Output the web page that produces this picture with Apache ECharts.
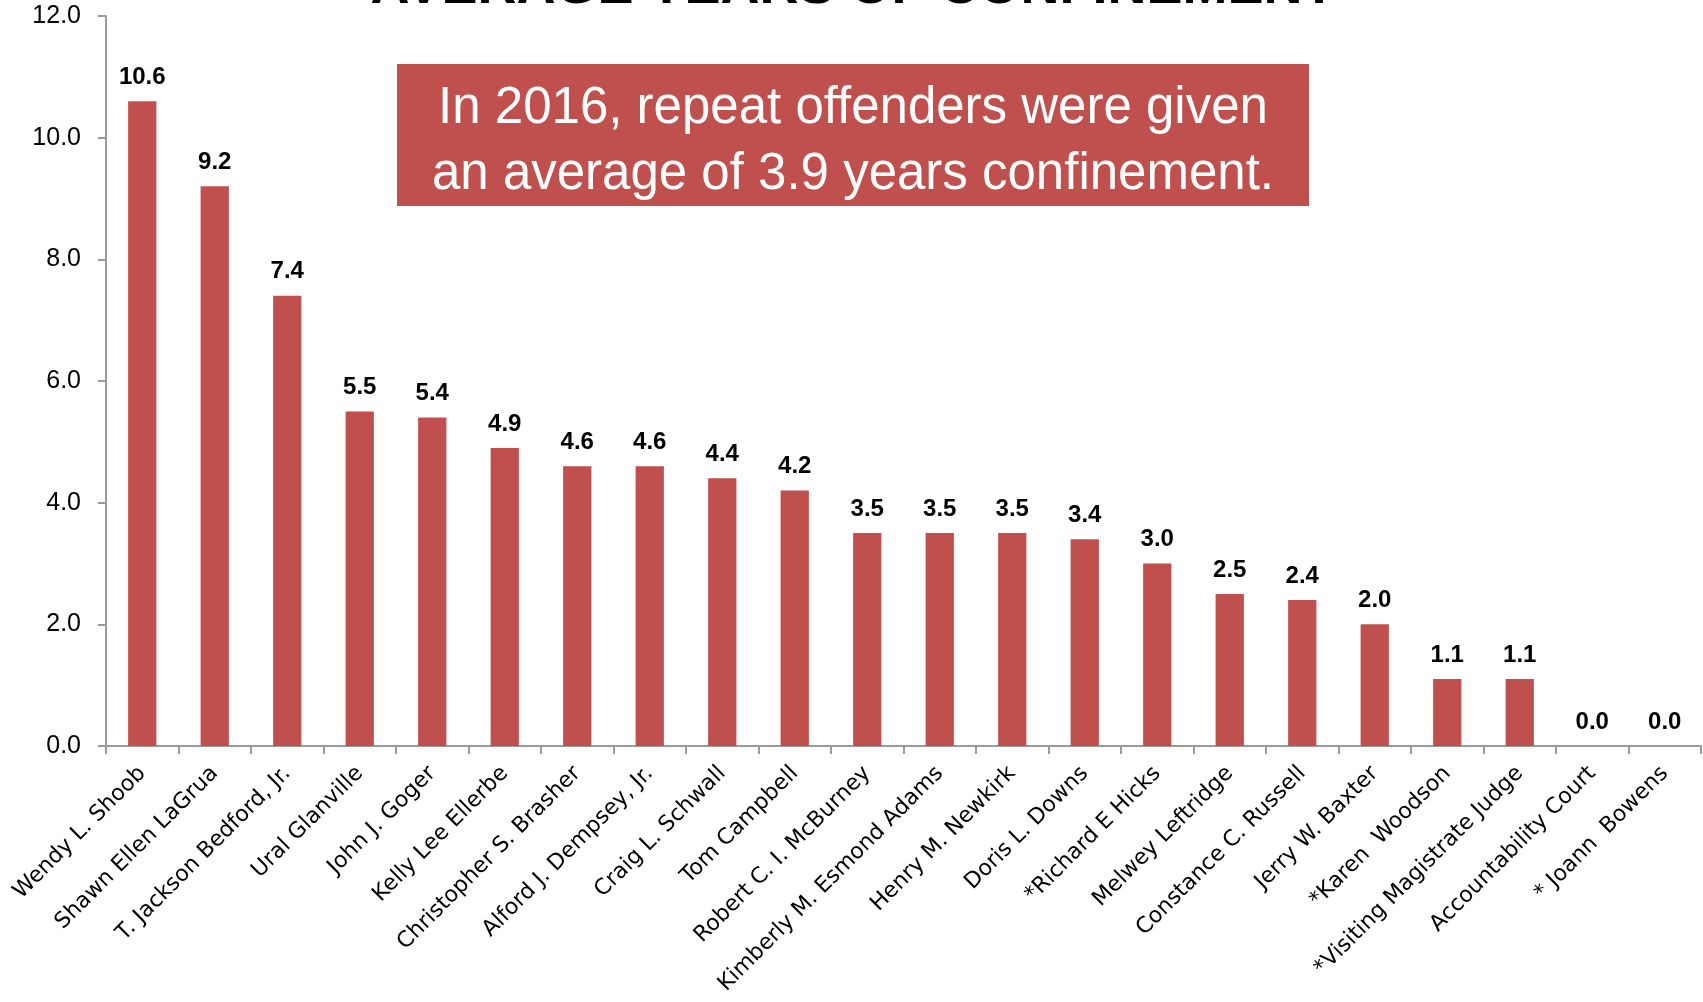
<!DOCTYPE html>
<html>
<head>
<meta charset="utf-8">
<title>Average Years of Confinement</title>
<script src="https://cdn.jsdelivr.net/npm/echarts@6/dist/echarts.min.js"></script>
<style>
  html, body { margin: 0; padding: 0; background: #ffffff; }
  #chart { width: 1703px; height: 1002px; }
</style>
</head>
<body>
<div id="chart"></div>
<script>
// Judges, ordered by average years of confinement given to repeat offenders
const judges = [
  'Wendy L. Shoob',
  'Shawn Ellen LaGrua',
  'T. Jackson Bedford, Jr.',
  'Ural Glanville',
  'John J. Goger',
  'Kelly Lee Ellerbe',
  'Christopher S. Brasher',
  'Alford J. Dempsey, Jr.',
  'Craig L. Schwall',
  'Tom Campbell',
  'Robert C. I. McBurney',
  'Kimberly M. Esmond Adams',
  'Henry M. Newkirk',
  'Doris L. Downs',
  '*Richard E Hicks',
  'Melwey Leftridge',
  'Constance C. Russell',
  'Jerry W. Baxter',
  '*Karen  Woodson',
  '*Visiting Magistrate Judge',
  'Accountability Court',
  '* Joann  Bowens'
];

// Average years of confinement
const avgYears = [
  10.6, 9.2, 7.4, 5.5, 5.4, 4.9, 4.6, 4.6, 4.4, 4.2, 3.5,
  3.5, 3.5, 3.4, 3.0, 2.5, 2.4, 2.0, 1.1, 1.1, 0.0, 0.0
];

// Value axis range
const yMin = 0;
const yMax = 12;
const yStep = 2;

const titleText = 'AVERAGE YEARS OF CONFINEMENT';
const calloutLines = [
  'In 2016, repeat offenders were given',
  'an average of 3.9 years confinement.'
];

const BAR_RED = '#C0504D';
const AXIS_GREY = '#9a9a9a';

const chart = echarts.init(document.getElementById('chart'), null, { renderer: 'canvas' });

chart.setOption({
  animation: false,
  backgroundColor: '#ffffff',
  grid: {
    left: 106, right: 2, top: 16, bottom: 256,
    containLabel: false,
    outerBoundsMode: 'none'
  },
  xAxis: {
    type: 'category',
    data: judges,
    boundaryGap: true,
    axisLine: { show: true, lineStyle: { color: AXIS_GREY, width: 2 } },
    axisTick: { show: true, inside: false, length: 8, alignWithLabel: false, lineStyle: { color: AXIS_GREY, width: 2 } },
    axisLabel: {
      interval: 0,
      rotate: 45,
      margin: 24,
      color: '#000000',
      fontFamily: '"DejaVu Sans", Verdana, sans-serif',
      fontSize: 22
    },
    splitLine: { show: false }
  },
  yAxis: {
    type: 'value',
    min: yMin,
    max: yMax,
    interval: yStep,
    axisLine: { show: true, lineStyle: { color: AXIS_GREY, width: 2 } },
    axisTick: { show: true, inside: false, length: 8, lineStyle: { color: AXIS_GREY, width: 2 } },
    axisLabel: {
      margin: 25,
      color: '#000000',
      fontFamily: '"Liberation Sans", Arial, sans-serif',
      fontSize: 25,
      formatter: v => v.toFixed(1)
    },
    splitLine: { show: false }
  },
  series: [{
    type: 'bar',
    data: avgYears,
    barWidth: '39%',
    itemStyle: { color: BAR_RED },
    label: {
      show: true,
      position: 'top',
      distance: 12,
      color: '#000000',
      fontFamily: '"Liberation Sans", Arial, sans-serif',
      fontWeight: 'bold',
      fontSize: 24,
      formatter: p => Number(p.value).toFixed(1)
    }
  }],
  graphic: [
    {
      type: 'text',
      x: 853,
      y: -12,
      silent: true,
      style: {
        text: titleText,
        font: 'bold 54px "Liberation Sans", Arial, sans-serif',
        fill: '#000000',
        align: 'center',
        verticalAlign: 'middle',
        textAlign: 'center',
        textVerticalAlign: 'middle'
      }
    },
    {
      type: 'rect',
      silent: true,
      shape: { x: 397, y: 64, width: 912, height: 142 },
      style: { fill: BAR_RED }
    },
    {
      type: 'text',
      x: 853,
      y: 142,
      silent: true,
      style: {
        text: calloutLines.join('\n'),
        font: '51px "Liberation Sans", Arial, sans-serif',
        lineHeight: 66,
        fill: '#ffffff',
        align: 'center',
        verticalAlign: 'middle',
        textAlign: 'center',
        textVerticalAlign: 'middle'
      }
    }
  ]
});
</script>
</body>
</html>
